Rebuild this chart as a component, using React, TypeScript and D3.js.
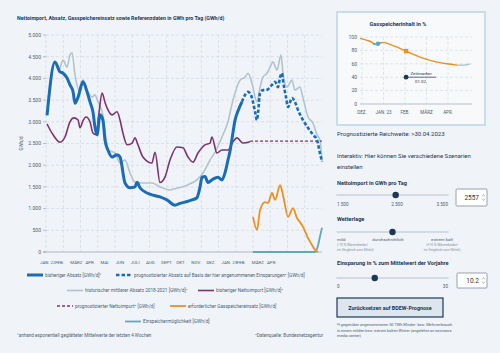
import React from 'react';
import * as d3 from 'd3';

// Hauptgrafik: Werte in GWh/d, x = Monate seit Jan. 2022
const monthLabels = ['JAN. 22', 'FEB.', 'MÄRZ', 'APR.', 'MAI', 'JUN', 'JULI', 'AUG.', 'SEPT.', 'OKT.', 'NOV.', 'DEZ.', 'JAN. 23', 'FEB.', 'MÄRZ', 'APR.'];
const yTicks = [0, 500, 1000, 1500, 2000, 2500, 3000, 3500, 4000, 4500, 5000];

const absatz: [number, number][] = [
  [0.06, 3150], [0.52, 4380], [0.81, 4150], [0.99, 4120], [1.22, 4010], [1.39, 3850], [1.57, 3690],
  [1.68, 3430], [1.86, 3570], [2.14, 3920], [2.38, 3690], [2.55, 3460], [2.72, 3230], [2.84, 2880],
  [2.96, 2700], [3.13, 3160], [3.3, 3040], [3.42, 2580], [3.59, 2350], [3.83, 2190], [4.12, 2240],
  [4.29, 2190], [4.58, 1590], [4.87, 1480], [5.16, 1500], [5.28, 1610], [5.45, 1480], [5.86, 1360],
  [6.2, 1310], [6.61, 1270], [7.01, 1200], [7.48, 1080], [7.77, 1120], [8.06, 1150], [8.46, 1200],
  [8.75, 1250], [8.93, 1500], [9.04, 1720], [9.22, 1740], [9.39, 1600], [9.68, 1680], [9.97, 1720],
  [10.2, 1660], [10.38, 1830], [10.55, 2120], [10.67, 2330], [10.78, 2600], [10.96, 3040],
  [11.13, 3250], [11.36, 3460],
];

const absatzPrognose: [number, number][] = [
  [11.36, 3460], [11.54, 3620], [11.71, 3690], [11.94, 3550], [12.12, 3230], [12.23, 3040],
  [12.29, 3200], [12.41, 3660], [12.58, 3730], [12.81, 3740], [13.1, 3850], [13.28, 3920],
  [13.45, 3800], [13.57, 4030], [13.68, 4120], [13.74, 3950], [13.91, 3570], [14.03, 3340],
  [14.26, 3550], [14.43, 3460], [14.61, 3270], [14.9, 3040], [15.19, 2860], [15.48, 2700],
  [15.71, 2580], [15.88, 2280], [16.0, 2080],
];

const mittelAbsatz: [number, number][] = [
  [0.58, 4300], [0.75, 4200], [0.99, 4420], [1.22, 4260], [1.39, 4540], [1.51, 4590], [1.68, 4080],
  [1.97, 3690], [2.14, 3960], [2.43, 3690], [2.67, 3570], [2.84, 3620], [3.01, 3460], [3.3, 3150],
  [3.42, 2800], [3.59, 2350], [4.0, 2280], [4.29, 2050], [4.58, 2120], [4.87, 1820], [5.16, 1610],
  [5.62, 1590], [6.14, 1590], [6.61, 1500], [7.19, 1430], [7.59, 1470], [8.17, 1540], [8.75, 1660],
  [9.1, 1820], [9.51, 2120], [9.8, 2300], [10.2, 2650], [10.55, 3000], [10.84, 3500], [11.25, 3960],
  [11.54, 4030], [11.71, 4120], [11.94, 3890], [12.23, 3460], [12.41, 3800], [12.58, 4030],
  [12.81, 4120], [12.99, 4260], [13.16, 4380], [13.39, 4190], [13.62, 4540], [13.74, 4120],
  [13.97, 3800], [14.26, 3960], [14.43, 3730], [14.72, 3800], [14.9, 3550], [15.19, 3110],
  [15.48, 2970], [15.71, 2700], [15.88, 2580], [16.0, 2100],
];

const nettoimport: [number, number][] = [
  [0.06, 2950], [0.41, 2700], [0.81, 2530], [1.1, 2650], [1.39, 3000], [1.62, 3090], [1.86, 3040],
  [1.97, 2860], [2.14, 3020], [2.32, 3110], [2.55, 3000], [2.72, 2740], [2.9, 2700], [3.07, 3200],
  [3.25, 3660], [3.42, 3450], [3.54, 3320], [3.83, 3160], [4.12, 3230], [4.29, 3040], [4.46, 2740],
  [4.7, 2470], [4.99, 2510], [5.16, 2630], [5.33, 2470], [5.62, 2190], [6.14, 2050], [6.32, 2300],
  [6.61, 1600], [6.9, 1730], [7.19, 2120], [7.59, 2420], [7.94, 2400], [8.23, 2190], [8.52, 2070],
  [8.81, 2280], [9.22, 2470], [9.51, 2510], [9.62, 2650], [9.91, 2280], [10.2, 2350], [10.55, 2350],
  [10.84, 2540], [11.07, 2630], [11.42, 2510], [11.83, 2540],
];

const nettoimportPrognose: [number, number][] = [[11.83, 2557], [16.0, 2557]];

const speichereinsatz: [number, number][] = [
  [12.0, 810], [12.23, 510], [12.41, 970], [12.7, 1150], [12.87, 1130], [13.1, 1360], [13.28, 1200],
  [13.57, 1540], [13.74, 1310], [14.03, 810], [14.32, 1010], [14.55, 780], [14.72, 690], [14.9, 580],
  [15.19, 320], [15.42, 160], [15.59, 50], [15.77, 0],
];

const einspeicherung: [number, number][] = [
  [12.0, 0], [15.59, 0], [15.77, 150], [15.88, 350], [16.0, 560],
];

// Kleine Grafik: Gasspeicherinhalt in %, x = Monate seit Dez. 2022
const speicherMonths = ['DEZ.', 'JAN. 23', 'FEB.', 'MÄRZ', 'APR.'];
const speicherTicks = [0, 20, 40, 60, 80, 100];
const speicherPrognose: [number, number][] = [
  [-0.09, 98], [0.23, 95], [0.47, 92], [0.6, 89], [0.74, 90], [0.98, 92], [1.3, 89], [1.63, 85],
  [2.05, 79], [2.7, 70], [3.3, 64], [3.95, 60], [4.42, 58],
];
const speicherIst: [number, number][] = [[0.5, 91], [0.6, 89], [0.74, 90], [0.9, 91.5]];
const speicherEnde: [number, number][] = [[4.42, 58], [4.75, 58], [5.02, 60]];
const zeitmarker = { month: 2.05, label: '01.02.' };

const colors = {
  absatz: '#1a6db4',
  mittel: '#b2c3cf',
  import: '#7d3470',
  speicher: '#ee8f1e',
  einspeicher: '#62a9b3',
  navy: '#1c3758',
  text: '#4a5e72',
  grid: '#cfd8e0',
};

const legendRows = [
  [
    { x: 27, kind: 'absatz', label: 'bisheriger Absatz [GWh/d]¹' },
    { x: 116, kind: 'prognose', label: 'prognostizierter Absatz auf Basis der hier angenommenen Einsparungen² [GWh/d]' },
  ],
  [
    { x: 67, kind: 'mittel', label: 'historischer mittlerer Absatz 2018-2021 [GWh/d]³' },
    { x: 198, kind: 'import', label: 'bisheriger Nettoimport [GWh/d]³' },
  ],
  [
    { x: 57, kind: 'importPrognose', label: 'prognostizierter Nettoimport² [GWh/d]' },
    { x: 170, kind: 'speicher', label: 'erforderlicher Gasspeichereinsatz [GWh/d]' },
  ],
  [{ x: 125, kind: 'einspeicher', label: 'Einspeichermöglichkeit [GWh/d]' }],
];

const de = d3.formatLocale({ decimal: ',', thousands: '.', grouping: [3], currency: ['', '€'] });
const fmt = de.format(',');

const font = 'Roboto, Arial, sans-serif';

function lineStyle(kind: string) {
  switch (kind) {
    case 'absatz': return { stroke: colors.absatz, strokeWidth: 3 };
    case 'prognose': return { stroke: colors.absatz, strokeWidth: 2.6, strokeDasharray: '3.5 2' };
    case 'mittel': return { stroke: colors.mittel, strokeWidth: 1.6 };
    case 'import': return { stroke: colors.import, strokeWidth: 1.6 };
    case 'importPrognose': return { stroke: colors.import, strokeWidth: 1.3, strokeDasharray: '3 2' };
    case 'speicher': return { stroke: colors.speicher, strokeWidth: 1.8 };
    default: return { stroke: colors.einspeicher, strokeWidth: 1.8 };
  }
}

function Slider({ y, min, max, value }: { y: number; min: number; max: number; value: number }) {
  const s = d3.scaleLinear().domain([min, max]).range([337, 448]);
  return (
    <g>
      <line x1={337} x2={448} y1={y} y2={y} stroke="#c8d2db" strokeWidth={1.6} strokeLinecap="round" />
      <circle cx={s(value)} cy={y} r={3.2} fill={colors.navy} />
    </g>
  );
}

function NumberBox({ x, y, w, h, text }: { x: number; y: number; w: number; h: number; text: string }) {
  return (
    <g>
      <rect x={x} y={y} width={w} height={h} fill="#fff" stroke="#7d8c99" strokeWidth={0.8} rx={1} />
      <text x={x + w - 8} y={y + h / 2 + 2.3} textAnchor="end" fontSize={6.5} fill="#333" fontFamily={font}>{text}</text>
      <path d={`M${x + w - 5},${y + h / 2 - 1} l1.5,-2 l1.5,2 M${x + w - 5},${y + h / 2 + 1} l1.5,2 l1.5,-2`} fill="none" stroke="#888" strokeWidth={0.6} />
    </g>
  );
}

export default function App() {
  const x = d3.scaleLinear().domain([0, 16]).range([46, 322]);
  const y = d3.scaleLinear().domain([0, 5000]).range([252, 35]);
  const labelX = d3.scalePoint<string>().domain(monthLabels.map((m, i) => i + m)).range([40, 267]);
  const line = d3.line<[number, number]>().x(d => x(d[0])).y(d => y(d[1])).curve(d3.curveMonotoneX);
  const gridMonths = d3.range(0, 16);

  const sx = d3.scaleLinear().domain([0, 4]).range([362, 448]);
  const sy = d3.scaleLinear().domain([0, 100]).range([104, 37]);
  const sline = d3.line<[number, number]>().x(d => sx(d[0])).y(d => sy(d[1])).curve(d3.curveMonotoneX);

  const netSlider = { min: 1500, max: 3500, value: 2557 };
  const sparSlider = { min: 0, max: 30, value: 10.2 };

  return (
    <div style={{ position: 'absolute', left: 0, top: 0 }}>
      <svg width={500} height={353} style={{ display: 'block', fontFamily: font }}>
        <rect width={500} height={353} fill="#f0f4f8" />

        {/* Titel */}
        <text x={17} y={20} fontSize={5.3} fontWeight={700} fill={colors.navy}>
          Nettoimport, Absatz, Gasspeichereinsatz sowie Referenzdaten in GWh pro Tag (GWh/d)
        </text>

        {/* Raster */}
        {yTicks.filter(t => t > 0).map(t => (
          <line key={'gy' + t} x1={46} x2={322} y1={y(t)} y2={y(t)} stroke={colors.grid} strokeWidth={0.7} strokeDasharray="3 2" />
        ))}
        {gridMonths.map(m => (
          <line key={'gx' + m} x1={x(m)} x2={x(m)} y1={y(5000)} y2={y(0)} stroke={colors.grid} strokeWidth={0.7} strokeDasharray="3 2" />
        ))}
        <line x1={43} x2={322} y1={y(0)} y2={y(0)} stroke="#9aa7b3" strokeWidth={0.8} />
        {yTicks.map(t => (
          <g key={'ty' + t}>
            <line x1={43} x2={46} y1={y(t)} y2={y(t)} stroke="#9aa7b3" strokeWidth={0.7} />
            <text x={41} y={y(t) + 1.8} textAnchor="end" fontSize={5.1} fill={colors.text}>{fmt(t)}</text>
          </g>
        ))}
        <text transform={`translate(23,${y(2500)}) rotate(-90)`} textAnchor="middle" fontSize={4.6} fill={colors.text}>GWh/d</text>
        {monthLabels.map((m, i) => (
          <text key={'lx' + i} x={labelX(i + m)} y={264} fontSize={4.4} fill={colors.text}>{m}</text>
        ))}

        {/* Linien */}
        <path d={line(einspeicherung) || ''} fill="none" {...lineStyle('einspeicher')} />
        <path d={line(mittelAbsatz) || ''} fill="none" {...lineStyle('mittel')} />
        <path d={line(nettoimport) || ''} fill="none" {...lineStyle('import')} />
        <path d={line(nettoimportPrognose) || ''} fill="none" {...lineStyle('importPrognose')} />
        <path d={line(speichereinsatz) || ''} fill="none" {...lineStyle('speicher')} />
        <path d={line(absatzPrognose) || ''} fill="none" {...lineStyle('prognose')} />
        <path d={line(absatz) || ''} fill="none" strokeLinejoin="round" {...lineStyle('absatz')} />

        {/* Legende */}
        {legendRows.map((row, ri) => (
          <g key={'lr' + ri}>
            {row.map(item => (
              <g key={item.kind}>
                <line x1={item.x} x2={item.x + 16} y1={275 + ri * 15.5} y2={275 + ri * 15.5} fill="none" {...lineStyle(item.kind)} />
                <text x={item.x + 18} y={276.7 + ri * 15.5} fontSize={4.7} fill={colors.text}>{item.label}</text>
              </g>
            ))}
          </g>
        ))}
        <text x={17} y={337} fontSize={4.6} fill={colors.text}>¹anhand exponentiell geglätteter Mittelwerte der letzten 4 Wochen</text>
        <text x={323} y={337} textAnchor="end" fontSize={4.6} fill={colors.text}>³Datenquelle: Bundesnetzagentur</text>

        {/* Kleine Grafik */}
        <rect x={337} y={12} width={148} height={113} fill="#f7f9fb" stroke="#bcd3e4" strokeWidth={1.5} />
        <text x={398} y={26} textAnchor="middle" fontSize={5.6} fontWeight={700} fill={colors.navy}>Gasspeicherinhalt in %</text>
        {speicherTicks.map(t => (
          <g key={'st' + t}>
            {t > 0 && <line x1={360} x2={472} y1={sy(t)} y2={sy(t)} stroke={colors.grid} strokeWidth={0.6} strokeDasharray="3 2" />}
            <text x={357} y={sy(t) + 1.8} textAnchor="end" fontSize={5} fill={colors.text}>{t}</text>
          </g>
        ))}
        <line x1={360} x2={472} y1={sy(0)} y2={sy(0)} stroke="#9aa7b3" strokeWidth={0.7} />
        {speicherMonths.map((m, i) => (
          <g key={'sm' + i}>
            <line x1={sx(i)} x2={sx(i)} y1={sy(100)} y2={sy(0)} stroke={colors.grid} strokeWidth={0.6} strokeDasharray="3 2" />
            <text x={sx(i)} y={114} textAnchor="middle" fontSize={4.5} fill={colors.text}>{m}</text>
          </g>
        ))}
        <path d={sline(speicherPrognose) || ''} fill="none" stroke={colors.speicher} strokeWidth={1.4} />
        <path d={sline(speicherEnde) || ''} fill="none" stroke="#9fc3cc" strokeWidth={1.4} />
        <path d={sline(speicherIst) || ''} fill="none" stroke={colors.einspeicher} strokeWidth={1.6} />
        <circle cx={sx(0.74)} cy={sy(90)} r={2.3} fill={colors.einspeicher} />
        <rect x={sx(zeitmarker.month) - 2.2} y={sy(79) - 2.2} width={4.4} height={4.4} fill={colors.speicher} />
        <line x1={sx(zeitmarker.month)} x2={sx(zeitmarker.month) + 30} y1={sy(40)} y2={sy(40)} stroke={colors.navy} strokeWidth={0.7} />
        <circle cx={sx(zeitmarker.month)} cy={sy(40)} r={2.4} fill={colors.navy} />
        <text x={sx(zeitmarker.month) + 15} y={sy(40) - 2.5} textAnchor="middle" fontSize={4.4} fill={colors.navy}>Zeitmarker</text>
        <text x={sx(zeitmarker.month) + 15} y={sy(40) + 5.5} textAnchor="middle" fontSize={4.4} fill={colors.navy}>{zeitmarker.label}</text>

        {/* Steuerung */}
        <text x={337} y={136} fontSize={6} fill={colors.navy}>Prognostizierte Reichweite: &gt;30.04.2023</text>
        <text x={337} y={158} fontSize={6} fill={colors.navy}>Interaktiv: Hier können Sie verschiedene Szenarien</text>
        <text x={337} y={169} fontSize={6} fill={colors.navy}>einstellen</text>

        <text x={337} y={185} fontSize={5.6} fontWeight={700} fill={colors.navy}>Nettoimport in GWh pro Tag</text>
        <Slider y={195} {...netSlider} />
        <text x={337} y={206} fontSize={4.6} fill={colors.text}>{fmt(1500)}</text>
        <text x={397} y={206} textAnchor="middle" fontSize={4.6} fill={colors.text}>{fmt(2500)}</text>
        <text x={448} y={206} textAnchor="end" fontSize={4.6} fill={colors.text}>{fmt(3500)}</text>
        <NumberBox x={456} y={189} w={31} h={17} text={String(netSlider.value)} />

        <text x={337} y={221} fontSize={5.6} fontWeight={700} fill={colors.navy}>Wetterlage</text>
        <Slider y={232} min={-1} max={1} value={0} />
        <text x={337} y={241} fontSize={4.4} fill={colors.text}>mild</text>
        <text x={388} y={241} textAnchor="middle" fontSize={4.4} fill={colors.text}>durchschnittlich</text>
        <text x={442} y={241} textAnchor="middle" fontSize={4.4} fill={colors.text}>extrem kalt</text>
        <text x={337} y={246} fontSize={3.4} fill="#8291a0">(-10 % Wärmebedarf</text>
        <text x={337} y={250.5} fontSize={3.4} fill="#8291a0">im Vergleich zum Mittel)</text>
        <text x={442} y={246} textAnchor="middle" fontSize={3.4} fill="#8291a0">(+10 % Wärmebedarf</text>
        <text x={442} y={250.5} textAnchor="middle" fontSize={3.4} fill="#8291a0">im Vergleich zum Mittel)</text>

        <text x={337} y={265} fontSize={5.6} fontWeight={700} fill={colors.navy}>Einsparung in % zum Mittelwert der Vorjahre</text>
        <Slider y={278} {...sparSlider} />
        <text x={337} y={288} fontSize={4.6} fill={colors.text}>0</text>
        <text x={448} y={288} textAnchor="end" fontSize={4.6} fill={colors.text}>{sparSlider.max}</text>
        <NumberBox x={457} y={273} w={30} h={15} text={String(sparSlider.value)} />

        <rect x={337} y={298} width={106} height={19} fill="#dde5ed" stroke={colors.navy} strokeWidth={1.2} />
        <text x={390} y={309.5} textAnchor="middle" fontSize={5.4} fontWeight={700} fill={colors.navy}>Zurücksetzen auf BDEW-Prognose</text>

        <text x={337} y={326} fontSize={3.9} fill={colors.text}>²f gegenüber angenommenen 50 TWh Minder- bzw. Mehrverbrauch</text>
        <text x={337} y={331.5} fontSize={3.9} fill={colors.text}>in einem milden bzw. extrem kalten Winter (angelehnt an secinews</text>
        <text x={337} y={337} fontSize={3.9} fill={colors.text}>media center)</text>
      </svg>
    </div>
  );
}
